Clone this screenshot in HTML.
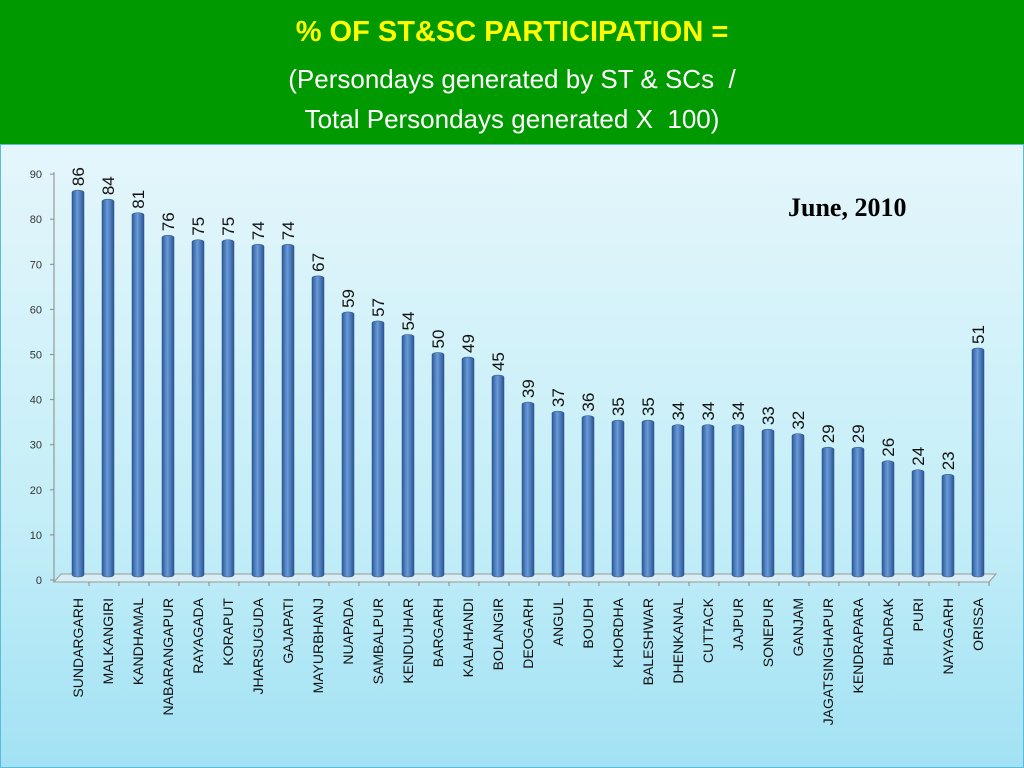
<!DOCTYPE html>
<html><head><meta charset="utf-8"><style>
body{margin:0;width:1024px;height:768px;overflow:hidden;font-family:"Liberation Sans",sans-serif}
#hdr{position:absolute;left:0;top:0;width:1024px;height:144px;background:#009a00;text-align:center;color:#fff}
#bg{position:absolute;left:0;top:144px;width:1022px;height:622px;background:linear-gradient(#e4f6fb,#c4eef8 60%,#a2e2f4);border:1px solid #5bbcd8}
</style></head><body>
<div id="hdr">
<div style="position:absolute;top:16px;width:100%;color:#ffff00;font-weight:bold;font-size:29px">% OF ST&amp;SC PARTICIPATION =</div>
<div style="position:absolute;top:64px;width:100%;font-size:26px">(Persondays generated by ST &amp; SCs&nbsp; /</div>
<div style="position:absolute;top:104px;width:100%;font-size:26px">Total Persondays generated X&nbsp; 100)</div>
</div>
<div id="bg"></div>
<svg id="chart" width="1024" height="768" style="position:absolute;left:0;top:0">
<defs><linearGradient id="bar" x1="0" x2="1"><stop offset="0" stop-color="#2d5a9a"/><stop offset="0.45" stop-color="#6a9ad8"/><stop offset="1" stop-color="#2a5595"/></linearGradient></defs>
<text x="788" y="216" font-family="Liberation Serif" font-weight="bold" font-size="26" fill="#000">June, 2010</text>
</svg>
<script>
const categories=["SUNDARGARH","MALKANGIRI","KANDHAMAL","NABARANGAPUR","RAYAGADA","KORAPUT","JHARSUGUDA","GAJAPATI","MAYURBHANJ","NUAPADA","SAMBALPUR","KENDUJHAR","BARGARH","KALAHANDI","BOLANGIR","DEOGARH","ANGUL","BOUDH","KHORDHA","BALESHWAR","DHENKANAL","CUTTACK","JAJPUR","SONEPUR","GANJAM","JAGATSINGHAPUR","KENDRAPARA","BHADRAK","PURI","NAYAGARH","ORISSA"];
const values=[86,84,81,76,75,75,74,74,67,59,57,54,50,49,45,39,37,36,35,35,34,34,34,33,32,29,29,26,24,23,51];
const yTicks=[0,10,20,30,40,50,60,70,80,90];
const svg=document.getElementById('chart');
const NS='http://www.w3.org/2000/svg';
const y0=578,yScale=4.51,x0=59,step=30;
const Y=v=>y0-v*yScale, X=i=>x0+step*(i+0.5);
function mk(t,a){const e=document.createElementNS(NS,t);for(const k in a)e.setAttribute(k,a[k]);svg.appendChild(e);return e;}
let ax=mk('line',{x1:54,y1:Y(90),x2:54,y2:582,stroke:'#888'});


let fl=mk('polygon',{points:`54,582 ${59+step*31},582 ${66+step*31},574 61,574`,fill:'#d8eef4',stroke:'#999'});


yTicks.forEach(v=>{
 mk('line',{x1:50,x2:54,y1:Y(v)+2,y2:Y(v)+2,stroke:'#888'});
 const t=mk('text',{x:42,y:Y(v)+6,'text-anchor':'end','font-size':11,fill:'#333'});t.textContent=v;
 
 
});
categories.forEach((c,i)=>{
 const cx=X(i)+4, top=Y(values[i]);
 mk('line',{x1:x0+step*(i+1),x2:x0+step*(i+1),y1:582,y2:586,stroke:'#888'});
 const b=mk('rect',{x:cx-6,y:top,width:12,height:577-top,rx:6,ry:2,fill:'url(#bar)',stroke:'#2a4f88','stroke-width':0.5});
 
 
 const v=mk('text',{transform:`translate(${cx+6},${top-4}) rotate(-90)`,'font-size':17,fill:'#111'});v.textContent=values[i];
 
 
 const l=mk('text',{transform:`translate(${cx+5},598) rotate(-90)`,'text-anchor':'end','font-size':14,fill:'#111'});l.textContent=c;
 
 
});
</script>
</body></html>
